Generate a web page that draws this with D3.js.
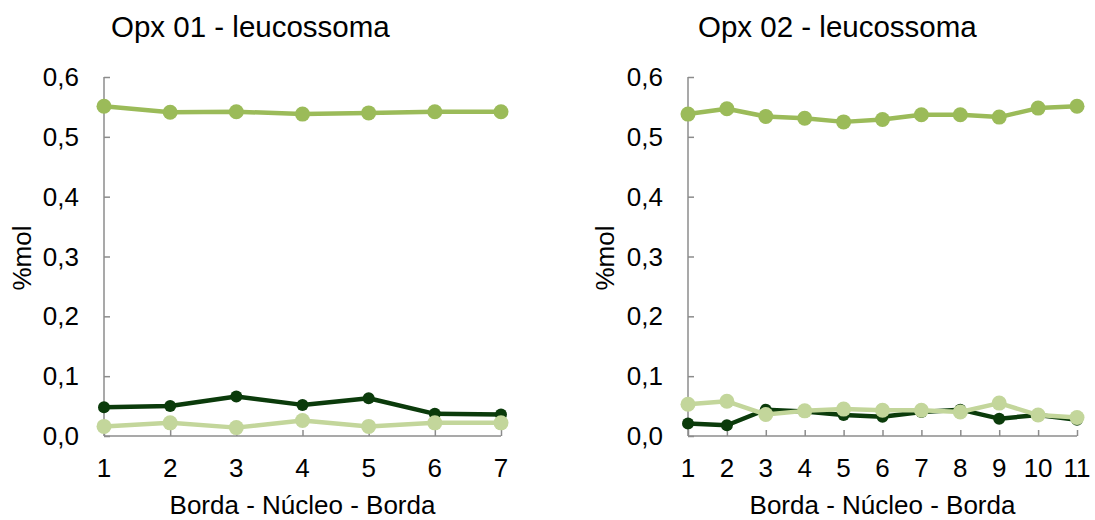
<!DOCTYPE html>
<html><head><meta charset="utf-8">
<script src="https://cdn.jsdelivr.net/npm/d3@7"></script>
<style>body{margin:0;background:#fff}svg{display:block}text{font-family:"Liberation Sans",Arial,sans-serif;fill:#000}</style>
</head><body>
<svg id="c" width="1095" height="520"></svg>
<script>
// Data
const titles = ["Opx 01 - leucossoma", "Opx 02 - leucossoma"];
const categories1 = [1,2,3,4,5,6,7];
const categories2 = [1,2,3,4,5,6,7,8,9,10,11];
const yTicks = [0,0.1,0.2,0.3,0.4,0.5,0.6];
const yTickLabels = ["0,0","0,1","0,2","0,3","0,4","0,5","0,6"];
const xAxisTitle = "Borda - Núcleo - Borda";
const yAxisTitle = "%mol";
// Opx 01
const mid1   = [0.551,0.541,0.542,0.538,0.540,0.542,0.542];
const dark1  = [0.048,0.050,0.066,0.052,0.063,0.037,0.036];
const light1 = [0.016,0.022,0.014,0.026,0.016,0.022,0.022];
// Opx 02
const mid2   = [0.538,0.547,0.534,0.531,0.525,0.529,0.537,0.537,0.533,0.548,0.551];
const dark2  = [0.021,0.018,0.044,0.041,0.035,0.032,0.040,0.044,0.029,0.035,0.027];
const light2 = [0.053,0.058,0.036,0.042,0.045,0.043,0.043,0.040,0.055,0.035,0.031];

const colors = {mid:"#9BBB59", dark:"#0B3B0B", light:"#C3D69B"};
const svg = d3.select("#c");

function panel(cfg){
  const g = svg.append("g");
  const x = d3.scalePoint().domain(cfg.cats).range([cfg.x0, cfg.x1]);
  const y = d3.scaleLinear().domain([0,0.6]).range([436,77]);
  const axisColor = "#8C8C8C";
  // y axis
  const ya = g.append("g").attr("transform",`translate(${cfg.x0},0)`)
    .call(d3.axisRight(y).tickValues(yTicks).tickSize(6).tickFormat(""));
  ya.select(".domain").attr("stroke",axisColor).attr("stroke-width",1.5).attr("d",`M0,${y(0.6)}V${y(0)}`);
  ya.selectAll(".tick line").attr("stroke",axisColor).attr("stroke-width",1.5);
  g.selectAll(".ylab").data(yTicks).enter().append("text")
    .attr("x",cfg.x0-25).attr("y",d=>y(d)).attr("dy","0.35em")
    .attr("text-anchor","end").attr("font-size",26)
    .text((d,i)=>yTickLabels[i]);
  // x axis
  const xa = g.append("g").attr("transform",`translate(0,${y(0)})`)
    .call(d3.axisTop(x).tickSize(6).tickFormat(""));
  xa.select(".domain").attr("stroke",axisColor).attr("stroke-width",1.5).attr("d",`M${cfg.x0},0H${cfg.x1}`);
  xa.selectAll(".tick line").attr("stroke",axisColor).attr("stroke-width",1.5);
  g.selectAll(".xlab").data(cfg.cats).enter().append("text")
    .attr("x",d=>x(d)).attr("y",468).attr("dy","0.35em")
    .attr("text-anchor","middle").attr("font-size",26).text(d=>d);
  // titles
  g.append("text").attr("x",cfg.titleX).attr("y",37).attr("font-size",29.5).text(cfg.title);
  g.append("text").attr("x",(cfg.x0+cfg.x1)/2).attr("y",514)
    .attr("text-anchor","middle").attr("font-size",26).text(xAxisTitle);
  g.append("text").attr("transform",`translate(${cfg.yLabX},258) rotate(-90)`)
    .attr("text-anchor","middle").attr("font-size",26).text(yAxisTitle);
  // series
  const line = d3.line().x((d,i)=>x(cfg.cats[i])).y(d=>y(d));
  cfg.series.forEach(s=>{
    g.append("path").datum(s.values).attr("d",line).attr("fill","none")
      .attr("stroke",s.color).attr("stroke-width",4.5).attr("stroke-linejoin","round");
    g.selectAll(null).data(s.values).enter().append("circle")
      .attr("cx",(d,i)=>x(cfg.cats[i])).attr("cy",d=>y(d)).attr("r",s.r).attr("fill",s.color);
  });
}

panel({cats:categories1, x0:104, x1:501, title:titles[0], titleX:111, yLabX:31,
  series:[{values:mid1,color:colors.mid,r:7.5},{values:dark1,color:colors.dark,r:6},{values:light1,color:colors.light,r:7.5}]});
panel({cats:categories2, x0:688, x1:1077, title:titles[1], titleX:698, yLabX:614,
  series:[{values:mid2,color:colors.mid,r:7.5},{values:dark2,color:colors.dark,r:6},{values:light2,color:colors.light,r:7.5}]});
</script>
</body></html>
